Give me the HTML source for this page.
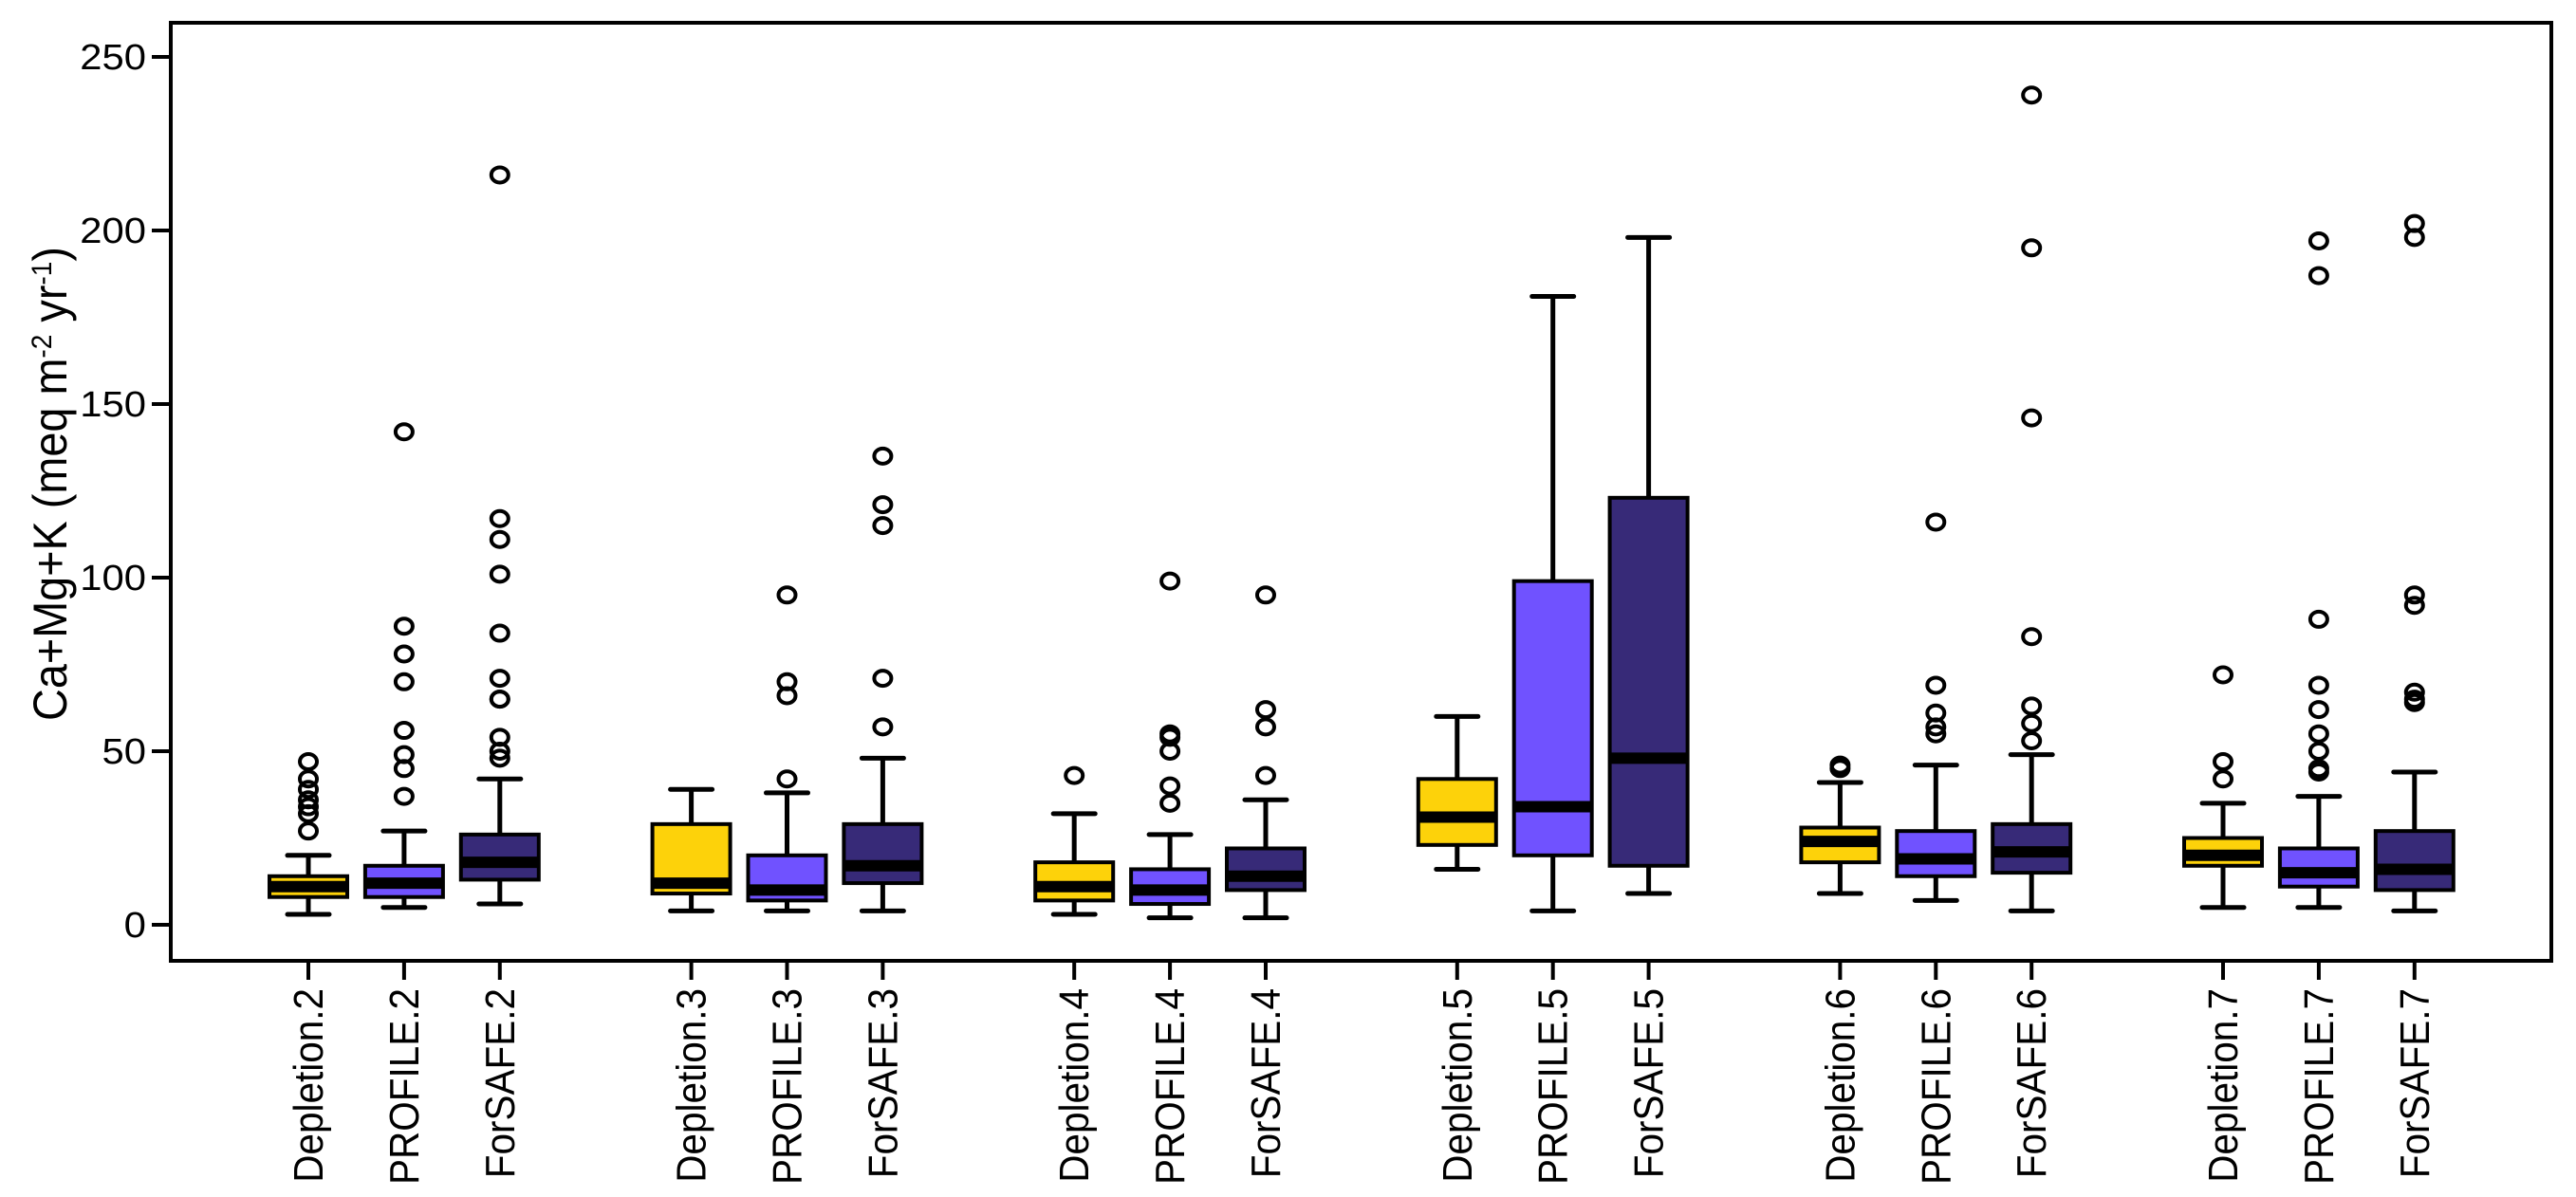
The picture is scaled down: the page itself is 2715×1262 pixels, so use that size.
<!DOCTYPE html>
<html><head><meta charset="utf-8"><style>
html,body{margin:0;padding:0;background:#fff;}
svg{display:block;}
text{font-family:"Liberation Sans",sans-serif;fill:#000;}
</style></head><body>
<svg id="chart" width="2715" height="1262" viewBox="0 0 2715 1262" xmlns="http://www.w3.org/2000/svg">
<rect x="0" y="0" width="2715" height="1262" fill="#fff"/>
<g id="marks"></g>
<rect x="180" y="24" width="2509" height="989" fill="none" stroke="#000" stroke-width="4"/>
<g id="yaxis"></g>
<g id="xaxis"></g>
<text transform="translate(70,510) rotate(-90)" text-anchor="middle" font-size="50" textLength="500" lengthAdjust="spacingAndGlyphs">Ca+Mg+K (meq m<tspan baseline-shift="super" font-size="30">-2</tspan> yr<tspan baseline-shift="super" font-size="30">-1</tspan>)</text>
</svg>
<script>
const categories = ["Depletion.2","PROFILE.2","ForSAFE.2","Depletion.3","PROFILE.3","ForSAFE.3","Depletion.4","PROFILE.4","ForSAFE.4","Depletion.5","PROFILE.5","ForSAFE.5","Depletion.6","PROFILE.6","ForSAFE.6","Depletion.7","PROFILE.7","ForSAFE.7"];
const whiskerLow = [3,5,6, 4,4,4, 3,2,2, 16,4,9, 9,7,4, 5,5,4];
const q1 =        [8,8,13, 9,7,12, 7,6,10, 23,20,17, 18,14,15, 17,11,10];
const medians =   [11,12,18, 12,10,17, 11,10,14, 31,34,48, 24,19,21, 20,15,16];
const q3 =        [14,17,26, 29,20,29, 18,16,22, 42,99,123, 28,27,29, 25,22,27];
const whiskerHigh=[20,27,42, 39,38,48, 32,26,36, 60,181,198, 41,46,49, 35,37,44];
const outliers = [
 [27,32,34,36,39,42,47],
 [37,45,49,56,70,78,86,142],
 [48,50,54,65,65,71,84,101,111,117,216],
 [],
 [42,66,70,95],
 [57,71,115,121,135],
 [43],
 [35,40,50,54,55,99],
 [43,57,62,95],
 [],[],[],
 [45,46],
 [55,57,61,69,116],
 [53,58,63,83,146,195,239],
 [42,47,72],
 [44,45,50,55,62,69,88,187,197],
 [64,65,67,92,95,198,202]
];
const yTicks = [0,50,100,150,200,250];
const colors = ["#FDD20A","#7052FF","#372A78"];

const NS="http://www.w3.org/2000/svg";
function y(v){return 975 - v*(915/250);}
function x(i){const g=Math.floor(i/3), m=i%3; return 325 + (g*4+m)*100.9;}
function mk(tag,attrs,parent){const e=document.createElementNS(NS,tag);for(const k in attrs)e.setAttribute(k,attrs[k]);parent.appendChild(e);return e;}

const marks=document.getElementById('marks');
const bw=82, cw=44;
categories.forEach((c,i)=>{
  const cx=x(i);
  const g=mk('g',{},marks);
  
  
  const w=mk('line',{x1:cx,x2:cx,y1:y(whiskerLow[i]),y2:y(whiskerHigh[i]),stroke:'#000','stroke-width':5},g);
  
  
  [whiskerLow[i],whiskerHigh[i]].forEach(v=>{
    const cap=mk('line',{x1:cx-cw/2,x2:cx+cw/2,y1:y(v),y2:y(v),stroke:'#000','stroke-width':5,'stroke-linecap':'round'},g);
    
    
  });
  const r=mk('rect',{x:cx-bw/2,y:y(q3[i]),width:bw,height:y(q1[i])-y(q3[i]),fill:colors[i%3],stroke:'#000','stroke-width':4},g);
  
  
  const md=mk('line',{x1:cx-bw/2,x2:cx+bw/2,y1:y(medians[i]),y2:y(medians[i]),stroke:'#000','stroke-width':12},g);
  
  
  outliers[i].forEach(v=>{
    const o=mk('ellipse',{cx:cx,cy:y(v),rx:9,ry:8,fill:'none',stroke:'#000','stroke-width':4},g);
    
    
  });
});

const ya=document.getElementById('yaxis');
yTicks.forEach(t=>{
  const l=mk('line',{x1:160,x2:180,y1:y(t),y2:y(t),stroke:'#000','stroke-width':4},ya);
  
  
  const tx=mk('text',{x:154,y:y(t)+13,'text-anchor':'end','font-size':38},ya);
  tx.textContent=t;
  
  
  const L=tx.getComputedTextLength();
  tx.setAttribute('textLength', (L*1.1).toFixed(1));
  tx.setAttribute('lengthAdjust','spacingAndGlyphs');
});
const xa=document.getElementById('xaxis');
categories.forEach((c,i)=>{
  const cx=x(i);
  const l=mk('line',{x1:cx,x2:cx,y1:1013,y2:1033,stroke:'#000','stroke-width':4},xa);
  
  
  const tx=mk('text',{transform:`translate(${cx+15},1042) rotate(-90)`,'text-anchor':'end','font-size':44},xa);
  tx.textContent=c;
  
  
  const L=tx.getComputedTextLength();
  tx.setAttribute('textLength', (L*0.92).toFixed(1));
  tx.setAttribute('lengthAdjust','spacingAndGlyphs');
});
</script>
</body></html>
